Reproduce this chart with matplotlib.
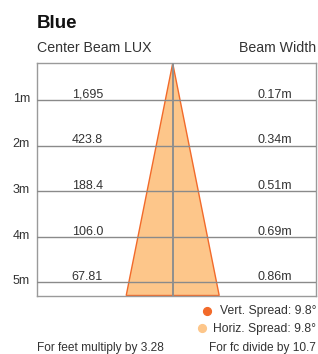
import matplotlib
matplotlib.use("Agg")
import matplotlib.pyplot as plt
from matplotlib.patches import Polygon
from matplotlib.lines import Line2D

plt.rcParams['font.family'] = ['Liberation Sans', 'DejaVu Sans']

# ---- data ----
title = "Blue"
distances = [1, 2, 3, 4, 5]
dist_labels = ["1m", "2m", "3m", "4m", "5m"]
lux_labels = ["1,695", "423.8", "188.4", "106.0", "67.81"]
beam_widths = [0.17, 0.34, 0.51, 0.69, 0.86]
vert_spread = 9.8
horiz_spread = 9.8
footer_left = "For feet multiply by 3.28"
footer_right = "For fc divide by 10.7"

W, H = 318, 354
fig = plt.figure(figsize=(W / 100, H / 100), dpi=100)

# axes box in pixels
L, R, T, B = 37.3, 316.0, 63.3, 295.5
ax = fig.add_axes([L / W, 1 - B / H, (R - L) / W, (B - T) / H])
cx = 172.7  # center pixel
ax.set_xlim(L - cx, R - cx)
ytop, ybot = 0.187, 5.29
ax.set_ylim(ybot, ytop)
ax.set_xticks([])
ax.set_yticks([])
for s in ax.spines.values():
    s.set_color("#9a9a9a")
    s.set_linewidth(1.0)

text_c = "#333333"
line_c = "#8a8a8a"
fill_c = "#fdc68a"
edge_c = "#f26a2a"

# cone (schematic), half width at bottom in pixel units
hw = 46.5
cone_h = Polygon([[0, ytop], [-hw, ybot], [hw, ybot]], closed=True,
                 facecolor=fill_c, edgecolor="none", zorder=1)
ax.add_patch(cone_h)
cone_v = Polygon([[0, ytop], [-hw, ybot], [hw, ybot]], closed=True,
                 facecolor="none", edgecolor=edge_c, linewidth=1.0, zorder=2)
ax.add_patch(cone_v)

# grid lines
for d in distances:
    ax.axhline(d, color=line_c, linewidth=1.0, zorder=3)
ax.axvline(0, color="#8f8f8f", linewidth=1.4, zorder=3)

px = 1 / 45.5  # meters per pixel vertically
for d, dl, lx, bw in zip(distances, dist_labels, lux_labels, beam_widths):
    ax.text(30 - cx, d + 1.7 * px, dl, ha="right", va="baseline",
            fontsize=9, color=text_c, clip_on=False)
    ax.text(71.7 - cx, d - 2.3 * px, lx, ha="left", va="baseline",
            fontsize=9, color=text_c)
    ax.text(291.7 - cx, d - 2.3 * px, f"{bw:.2f}m", ha="right", va="baseline",
            fontsize=9, color=text_c)

def ftext(x, y, s, **kw):
    fig.text(x / W, 1 - y / H, s, va="baseline", **kw)

ftext(36.5, 27.5, title, ha="left", fontsize=13.5, fontweight="bold", color="#111111")
ftext(37, 51.7, "Center Beam LUX", ha="left", fontsize=10.2, color=text_c)
ftext(316, 51.7, "Beam Width", ha="right", fontsize=10.2, color=text_c)

# legend
fig.add_artist(Line2D([206.7 / W], [1 - 310.7 / H], marker="o",
               markersize=5.6, color=edge_c, linestyle="none", transform=fig.transFigure))
fig.add_artist(Line2D([201.7 / W], [1 - 328.3 / H], marker="o",
               markersize=5.6, color=fill_c, linestyle="none", transform=fig.transFigure))
ftext(316, 314.0, f"Vert. Spread: {vert_spread}°", ha="right", fontsize=8.7, color=text_c)
ftext(316, 331.7, f"Horiz. Spread: {horiz_spread}°", ha="right", fontsize=8.7, color=text_c)

ftext(37, 350.5, footer_left, ha="left", fontsize=8.6, color=text_c)
ftext(316, 350.5, footer_right, ha="right", fontsize=8.6, color=text_c)

fig.savefig("out.png", dpi=100)
